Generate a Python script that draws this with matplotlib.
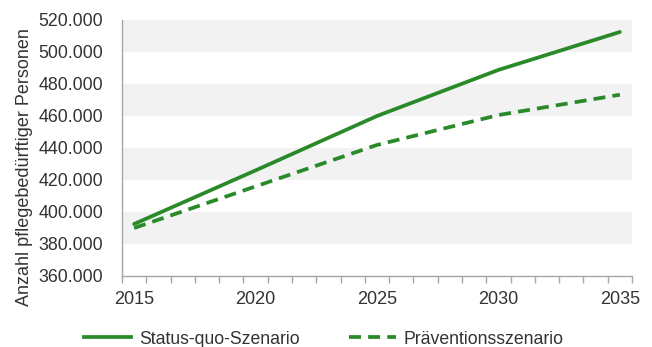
import matplotlib
matplotlib.use("Agg")
import matplotlib.pyplot as plt
from matplotlib.ticker import FixedLocator, FuncFormatter
from matplotlib.lines import Line2D

plt.rcParams["font.family"] = ["Liberation Sans", "DejaVu Sans"]

# Yearly category axis 2015..2035, values given every five years
years = list(range(2015, 2036))
data_years = [2015, 2020, 2025, 2030, 2035]
status_quo = [392500, 426000, 460000, 488800, 512500]
praevention = [390000, 416000, 441900, 460600, 473300]
y_ticks = [360000, 380000, 400000, 420000, 440000, 460000, 480000, 500000, 520000]
x_labels = ["2015", "2020", "2025", "2030", "2035"]
series_names = ["Status-quo-Szenario", "Präventionsszenario"]

green = "#2a8a2a"
band = "#f2f2f2"
axis_grey = "#a6a6a6"
text_col = "#333333"

fig = plt.figure(figsize=(6.52, 3.47), dpi=100)
ax = fig.add_axes([122 / 652, 1 - 276 / 347, 510 / 652, 256 / 347])

pos = {y: i for i, y in enumerate(years)}
xs = [pos[y] for y in data_years]

ax.set_xlim(-0.5, len(years) - 0.5)
ax.set_ylim(y_ticks[0], y_ticks[-1])

# alternating horizontal bands
for i in range(len(y_ticks) - 1):
    if i % 2 == 1:
        ax.axhspan(y_ticks[i], y_ticks[i + 1], color=band, lw=0, zorder=0)

ax.plot(xs, status_quo, color=green, lw=2.7, solid_capstyle="round", zorder=3)
ax.plot(xs, praevention, color=green, lw=2.7, dashes=(3.2, 1.9), zorder=3)

for s in ["top", "right"]:
    ax.spines[s].set_visible(False)
for s in ["left", "bottom"]:
    ax.spines[s].set_color(axis_grey)
    ax.spines[s].set_linewidth(1.0)

ax.yaxis.set_major_locator(FixedLocator(y_ticks))
ax.yaxis.set_major_formatter(FuncFormatter(lambda v, p: f"{int(v):,}".replace(",", ".")))
ax.tick_params(axis="y", length=0, pad=13.5, labelsize=12.8, labelcolor=text_col)

label_pos = [pos[int(t)] for t in x_labels]
ax.set_xticks(label_pos)
ax.set_xticklabels(x_labels)
ax.set_xticks([i - 0.5 for i in range(len(years) + 1)], minor=True)
ax.tick_params(axis="x", which="major", length=0, pad=11, labelsize=13, labelcolor=text_col)
ax.tick_params(axis="x", which="minor", length=5, width=1.0, color=axis_grey, direction="out")

ax.set_ylabel("Anzahl pflegebedürftiger Personen", fontsize=13, color=text_col)
ax.yaxis.set_label_coords(-0.1745, 0.426)

handles = [
    Line2D([], [], color=green, lw=2.7),
    Line2D([], [], color=green, lw=2.7, dashes=(3.2, 1.9)),
]
fig.legend(handles, series_names, loc="center", bbox_to_anchor=(0.497, 1 - 339 / 347),
           ncol=2, frameon=False, fontsize=12.7, handlelength=2.65, handletextpad=0.45,
           columnspacing=2.8, labelcolor=text_col)

fig.savefig("out.png", dpi=100, facecolor="white")
